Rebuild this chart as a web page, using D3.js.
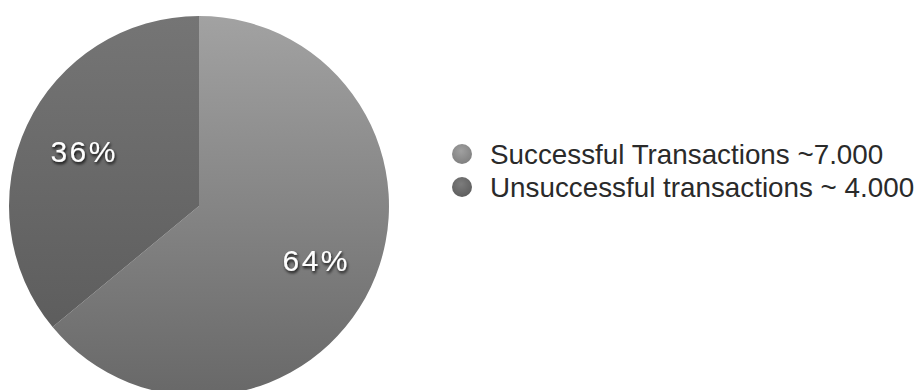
<!DOCTYPE html>
<html>
<head>
<meta charset="utf-8">
<script src="https://cdn.jsdelivr.net/npm/d3@7"></script>
<style>
  html, body { margin: 0; padding: 0; background: #fff; }
  svg { display: block; font-family: "Liberation Sans", Arial, Helvetica, sans-serif; }
</style>
</head>
<body>
<div id="pie-chart"></div>
<script>
// Transaction outcome shares
const categories = ["Successful Transactions ~7.000", "Unsuccessful transactions ~ 4.000"];
const shares = [64, 36];
const shareLabels = ["64%", "36%"];

function createPieChart() {
    const container = d3.select("#pie-chart");
    container.selectAll("*").remove();

    const width = 922, height = 390;
    const cx = 199, cy = 206, radius = 190;

    const svg = container.append("svg")
        .attr("width", width)
        .attr("height", height);

    const defs = svg.append("defs");

    // vertical shading per slice (gradient coords are in the pie group's space)
    const sliceShades = [["#a2a2a2", "#686868"], ["#757575", "#585858"]];
    sliceShades.forEach((c, i) => {
        const grad = defs.append("linearGradient")
            .attr("id", `slice-grad-${i}`)
            .attr("gradientUnits", "userSpaceOnUse")
            .attr("x1", 0).attr("y1", -radius)
            .attr("x2", 0).attr("y2", radius);
        grad.append("stop").attr("offset", "0%").attr("stop-color", c[0]);
        grad.append("stop").attr("offset", "100%").attr("stop-color", c[1]);
    });

    const dotShades = [["#a0a0a0", "#808080"], ["#7c7c7c", "#5e5e5e"]];
    dotShades.forEach((c, i) => {
        const grad = defs.append("radialGradient")
            .attr("id", `dot-grad-${i}`)
            .attr("cx", "45%").attr("cy", "35%").attr("r", "65%");
        grad.append("stop").attr("offset", "0%").attr("stop-color", c[0]);
        grad.append("stop").attr("offset", "100%").attr("stop-color", c[1]);
    });

    const shadow = defs.append("filter")
        .attr("id", "label-shadow")
        .attr("x", "-20%").attr("y", "-30%")
        .attr("width", "140%").attr("height", "170%");
    shadow.append("feDropShadow")
        .attr("dx", 1).attr("dy", 2)
        .attr("stdDeviation", 1.5)
        .attr("flood-color", "#000")
        .attr("flood-opacity", 0.9);

    const g = svg.append("g")
        .attr("transform", `translate(${cx},${cy})`);

    const pie = d3.pie().sort(null).value(d => d);
    const arcs = pie(shares);

    const arc = d3.arc().innerRadius(0).outerRadius(radius);
    const labelArc = d3.arc().innerRadius(radius * 0.675).outerRadius(radius * 0.675);

    g.selectAll("path.slice")
        .data(arcs)
        .enter().append("path")
        .attr("class", "slice")
        .attr("d", arc)
        .style("fill", (d, i) => `url(#slice-grad-${i})`)
        .style("stroke", "none");

    // percentage labels, white with a dark drop shadow
    g.selectAll("text.pct")
        .data(arcs)
        .enter().append("text")
        .attr("class", "pct")
        .attr("transform", d => `translate(${labelArc.centroid(d)})`)
        .attr("dx", "1.2px")
        .attr("dy", "0.36em")
        .attr("text-anchor", "middle")
        .attr("filter", "url(#label-shadow)")
        .style("fill", "#fff")
        .style("font-size", "30px")
        .style("letter-spacing", "2.5px")
        .text((d, i) => shareLabels[i]);

    // Legend
    const legend = svg.selectAll(".legend")
        .data(categories)
        .enter().append("g")
        .attr("class", "legend")
        .attr("transform", (d, i) => `translate(462, ${154 + i * 33})`);

    legend.append("circle")
        .attr("r", 10)
        .style("fill", (d, i) => `url(#dot-grad-${i})`);

    legend.append("text")
        .attr("x", 28)
        .attr("dy", "0.36em")
        .style("font-size", "27.8px")
        .style("fill", "#2a2a2a")
        .text(d => d);
}

createPieChart();
</script>
</body>
</html>
